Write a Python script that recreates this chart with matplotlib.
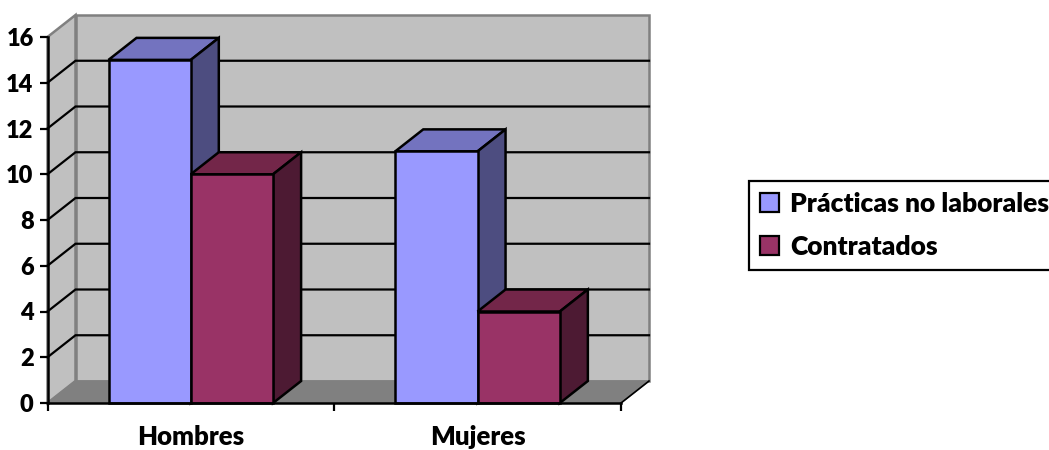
import matplotlib
matplotlib.use("Agg")
import matplotlib.pyplot as plt
from matplotlib.patches import Polygon, Patch

categories = ["Hombres", "Mujeres"]
series_names = ["Prácticas no laborales", "Contratados"]
practicas = [15, 11]
contratados = [10, 4]
y_ticks = [0, 2, 4, 6, 8, 10, 12, 14, 16]

blue = ("#9999FF", "#7373BF", "#4D4D80")    #front, top, side
maroon = ("#993366", "#732649", "#4D1A33")

plt.rcParams['font.family'] = ['Lato', 'DejaVu Sans']
plt.rcParams['font.weight'] = 'heavy'

W, H = 1049, 450
fig = plt.figure(figsize=(W / 100, H / 100), dpi=100)
ax = fig.add_axes([47.5 / W, (H - 403) / H, 573.5 / W, 366 / H])
ax.patch.set_visible(False)
ax.set_xlim(0, 2)
ax.set_ylim(0, 16)

#fake 3d depth, in data units
dx = 28 / 286.75
dy = 22 / 22.875
bar_w = 82.3 / 286.75
gap = 61 / 286.75
wall = "#808080"

def poly(points, face, edge="black", lw=1.8, z=2):
    ax.add_patch(Polygon(points, closed=True, facecolor=face, edgecolor=edge,
                         linewidth=lw, clip_on=False, zorder=z, joinstyle='miter'))

#walls and floor
poly([(dx, dy), (2 + dx, dy), (2 + dx, 16 + dy), (dx, 16 + dy)], "#C0C0C0", wall, 1.8, 1)
poly([(0, 0), (dx, dy), (dx, 16 + dy), (0, 16)], "#C0C0C0", wall, 1.8, 1)
poly([(0, 0), (2, 0), (2 + dx, dy), (dx, dy)], wall, wall, 1, 1.2)

#grid lines
for v in y_ticks[1:-1]:
    ax.plot([0, dx, 2 + dx], [v, v + dy, v + dy], color="black", lw=1.6,
            clip_on=False, zorder=1.5, solid_joinstyle='miter')
ax.plot([2, 2 + dx], [0, dy], color="black", lw=1.2, clip_on=False, zorder=1.5)

def draw_bar(x, v, colors):
    front, top, side = colors
    poly([(x, v), (x + bar_w, v), (x + bar_w + dx, v + dy), (x + dx, v + dy)], top)
    poly([(x + bar_w, 0), (x + bar_w + dx, dy), (x + bar_w + dx, v + dy), (x + bar_w, v)], side)
    poly([(x, 0), (x + bar_w, 0), (x + bar_w, v), (x, v)], front)

for i in range(len(categories)):
    draw_bar(i + gap, practicas[i], blue)
    draw_bar(i + gap + bar_w, contratados[i], maroon)

#axes
for s in ['top', 'right']:
    ax.spines[s].set_visible(False)
for s in ['left', 'bottom']:
    ax.spines[s].set_linewidth(1.8)
    ax.spines[s].set_zorder(3)
ax.set_yticks(y_ticks)
ax.set_yticklabels([str(v) for v in y_ticks], fontsize=17, fontweight='heavy')
ax.tick_params(axis='y', length=6, width=1.6, pad=4)
ax.set_xticks([0, 1, 2])
ax.set_xticklabels([])
ax.tick_params(axis='x', which='major', length=6, width=1.6)
ax.set_xticks([0.5, 1.5], minor=True)
ax.set_xticklabels(categories, minor=True, fontsize=18.5, fontweight='heavy')
ax.tick_params(axis='x', which='minor', length=0, pad=16)

#legend runs off the right edge like in the original
handles = [Patch(facecolor=blue[0], edgecolor="black", linewidth=1.6, label=series_names[0]),
           Patch(facecolor=maroon[0], edgecolor="black", linewidth=1.6, label=series_names[1])]
leg = fig.legend(handles=handles, loc='upper left', bbox_to_anchor=(749 / W, (H - 181) / H),
                 fancybox=False, edgecolor="black", framealpha=1,
                 prop={'size': 19, 'weight': 'heavy'},
                 borderaxespad=0, borderpad=0.42, labelspacing=0.72,
                 handlelength=0.72, handleheight=0.72, handletextpad=0.42)
leg.get_frame().set_linewidth(1.6)

fig.savefig("out.png", dpi=100)
